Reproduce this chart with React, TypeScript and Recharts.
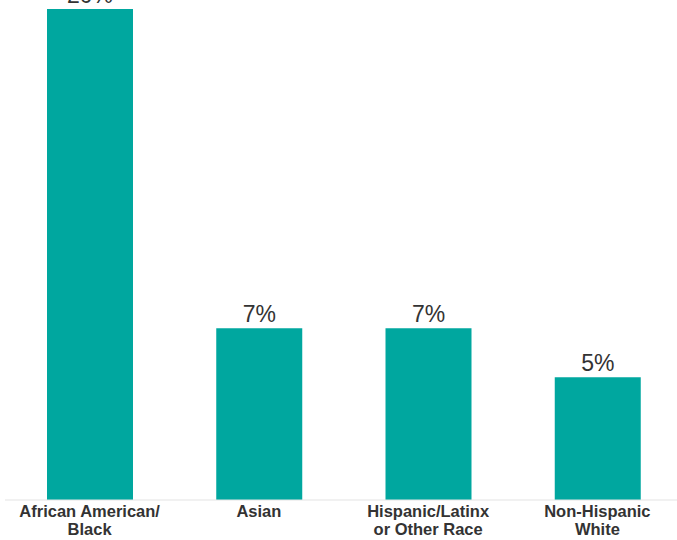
import { Bar, BarChart, LabelList, XAxis, YAxis } from "recharts";

const CATEGORIES = [
  "African American/\nBlack",
  "Asian",
  "Hispanic/Latinx\nor Other Race",
  "Non-Hispanic\nWhite",
];
const VALUES = [20, 7, 7, 5];

const BAR_COLOR = "#00a79f";
const TEXT_COLOR = "#333333";
const FONT = '"Liberation Sans", Arial, Helvetica, sans-serif';

const data = CATEGORIES.map((name, i) => ({ name, value: VALUES[i] }));

interface TickProps {
  x?: number;
  y?: number;
  payload?: { value: string };
}

// two-line category labels, split on "\n"
function CategoryTick({ x = 0, y = 0, payload }: TickProps) {
  const lines = String(payload?.value ?? "").split("\n");
  return (
    <text
      x={x}
      y={y}
      textAnchor="middle"
      fill={TEXT_COLOR}
      fontFamily={FONT}
      fontSize={16.5}
      fontWeight="bold"
    >
      {lines.map((line, i) => (
        <tspan key={i} x={x} dy={i === 0 ? 17 : 18}>
          {line}
        </tspan>
      ))}
    </text>
  );
}

export default function App() {
  return (
    <div
      style={{
        position: "absolute",
        left: 0,
        top: 0,
        width: 677,
        height: 540,
        overflow: "hidden",
        background: "#fff",
      }}
    >
      <BarChart
        width={682}
        height={540}
        data={data}
        margin={{ top: 9, right: 0, bottom: 0, left: 5 }}
      >
        <XAxis
          dataKey="name"
          height={40}
          interval={0}
          tickLine={false}
          tickSize={0}
          tickMargin={0}
          axisLine={{ stroke: "#e3e3e3", strokeWidth: 1 }}
          tick={<CategoryTick />}
        />
        <YAxis hide domain={[0, 20]} />
        <Bar dataKey="value" fill={BAR_COLOR} barSize={86} isAnimationActive={false}>
          <LabelList
            dataKey="value"
            position="top"
            offset={6}
            formatter={(v: number) => `${v}%`}
            fill={TEXT_COLOR}
            fontSize={23}
            fontFamily={FONT}
          />
        </Bar>
      </BarChart>
    </div>
  );
}
